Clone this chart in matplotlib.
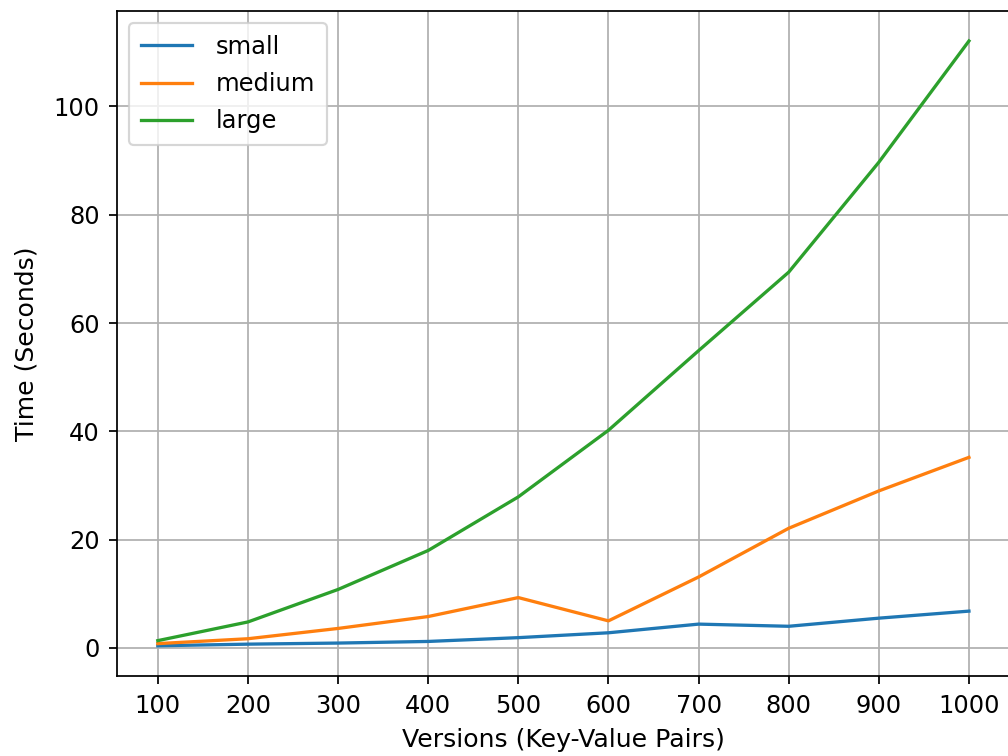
import matplotlib
matplotlib.use("Agg")
import matplotlib.pyplot as plt

# values
versions = [100, 200, 300, 400, 500, 600, 700, 800, 900, 1000]
small = [0.4, 0.7, 0.9, 1.2, 1.9, 2.8, 4.4, 4.0, 5.5, 6.8]
medium = [0.8, 1.7, 3.6, 5.8, 9.3, 5.0, 13.1, 22.1, 29.0, 35.2]
large = [1.35, 4.8, 10.8, 18.0, 27.9, 40.2, 54.9, 69.4, 89.7, 112.1]

plt.rcParams['font.size'] = 11

fig = plt.figure(figsize=(6.4, 4.8), dpi=157.5)
ax = fig.add_axes([0.1163, 0.1058, 0.8852, 0.880])

ax.plot(versions, small, label="small")
ax.plot(versions, medium, label="medium")
ax.plot(versions, large, label="large")

ax.set_xticks(versions)
ax.tick_params(labelsize=11, pad=4.5)
ax.set_xlabel("Versions (Key-Value Pairs)", fontsize=11.5, labelpad=5)
ax.set_ylabel("Time (Seconds)", fontsize=11.5, labelpad=7)
ax.grid(True)
ax.legend(loc="upper left", fontsize=11, labelspacing=0.55,
          handlelength=2.1, handletextpad=1.0, borderpad=0.5)

fig.savefig("out.png", dpi=157.5)
